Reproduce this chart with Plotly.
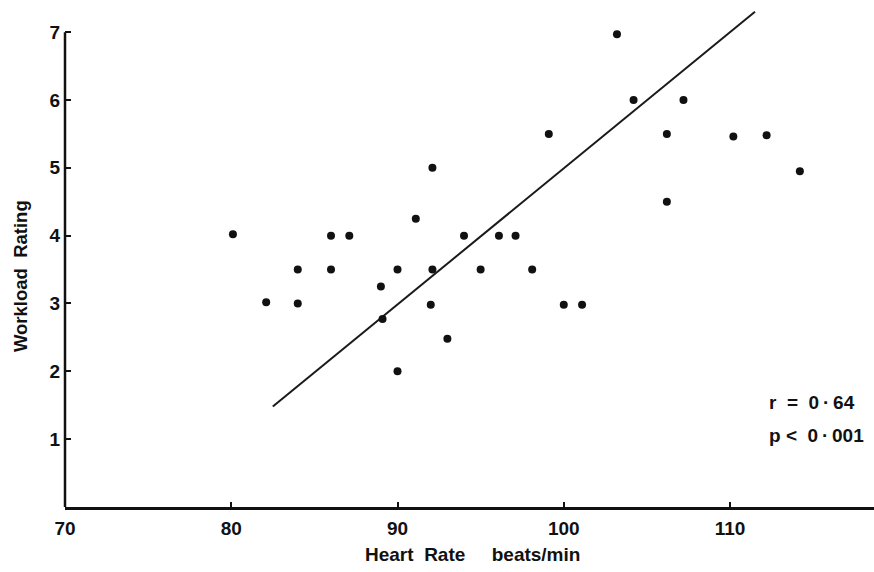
import plotly.graph_objects as go

# Data
heart_rate = [80.1, 82.1, 84.0, 84.0, 86.0, 86.0, 87.1, 89.0, 89.1, 90.0, 90.0,
              91.1, 92.1, 92.1, 92.0, 93.0, 94.0, 95.0, 96.1, 97.1, 98.1, 99.1,
              100.0, 101.1, 103.2, 104.2, 106.2, 106.2, 107.2, 110.2, 112.2, 114.2]
workload = [4.02, 3.02, 3.5, 3.0, 4.0, 3.5, 4.0, 3.25, 2.77, 3.5, 2.0,
            4.25, 5.0, 3.5, 2.98, 2.48, 4.0, 3.5, 4.0, 4.0, 3.5, 5.5,
            2.98, 2.98, 6.97, 6.0, 5.5, 4.5, 6.0, 5.46, 5.48, 4.95]
fit_x = [82.5, 111.5]
fit_y = [1.48, 7.3]
x_ticks = [70, 80, 90, 100, 110]
y_ticks = [1, 2, 3, 4, 5, 6, 7]
stats_text = ["r\u00a0\u00a0=\u00a0\u00a00\u2009·\u200964",
              "p\u00a0<\u00a0\u00a00\u2009·\u2009001"]

FONT = "Liberation Sans"
INK = "#111111"

fig = go.Figure()
fig.add_trace(go.Scatter(x=fit_x, y=fit_y, mode="lines",
                         line=dict(color="#1a1a1a", width=2), hoverinfo="skip"))
fig.add_trace(go.Scatter(x=heart_rate, y=workload, mode="markers",
                         marker=dict(color=INK, size=8), cliponaxis=False))

tickfont = dict(family=FONT, size=19, color=INK, weight="bold")
fig.update_xaxes(range=[70, 118.66], tickvals=x_ticks, ticktext=[str(v) for v in x_ticks],
                 showgrid=False, zeroline=False, showline=True, linecolor=INK, linewidth=2.5,
                 ticks="inside", ticklen=5, tickwidth=2, tickcolor=INK, tickfont=tickfont,
                 ticklabelstandoff=2)
fig.update_yaxes(range=[0, 7.4], tickvals=y_ticks, ticktext=[str(v) for v in y_ticks],
                 showgrid=False, zeroline=False, showline=False,
                 ticks="inside", ticklen=6, tickwidth=2, tickcolor=INK, tickfont=tickfont,
                 ticklabelstandoff=4)

fig.add_shape(type="line", xref="paper", yref="y", x0=0, x1=0, y0=0, y1=7,
              line=dict(color=INK, width=2.5))

titlefont = dict(family=FONT, size=19, color=INK, weight="bold")
fig.add_annotation(text="Heart\u00a0\u00a0Rate\u00a0\u00a0\u00a0\u00a0\u00a0beats/min",
                   xref="paper", yref="paper", x=0.504, y=-0.0956,
                   xanchor="center", yanchor="middle", showarrow=False, font=titlefont)
fig.add_annotation(text="Workload\u00a0\u00a0Rating", textangle=-90,
                   xref="paper", yref="paper", x=-0.0556, y=0.46,
                   xanchor="center", yanchor="middle", showarrow=False,
                   font=dict(family=FONT, size=18.5, color=INK, weight="bold"))
fig.add_annotation(text=stats_text[0], xref="paper", yref="paper", x=0.8677, y=0.209,
                   xanchor="left", yanchor="middle", showarrow=False, font=titlefont)
fig.add_annotation(text=stats_text[1], xref="paper", yref="paper", x=0.8677, y=0.143,
                   xanchor="left", yanchor="middle", showarrow=False, font=titlefont)

fig.update_layout(width=874, height=572, showlegend=False,
                  plot_bgcolor="white", paper_bgcolor="white",
                  margin=dict(l=65, r=0, t=5, b=65))

fig.write_html("out.html", config={"displayModeBar": False},
               post_script="document.body.style.margin='0';document.body.style.padding='0';")
